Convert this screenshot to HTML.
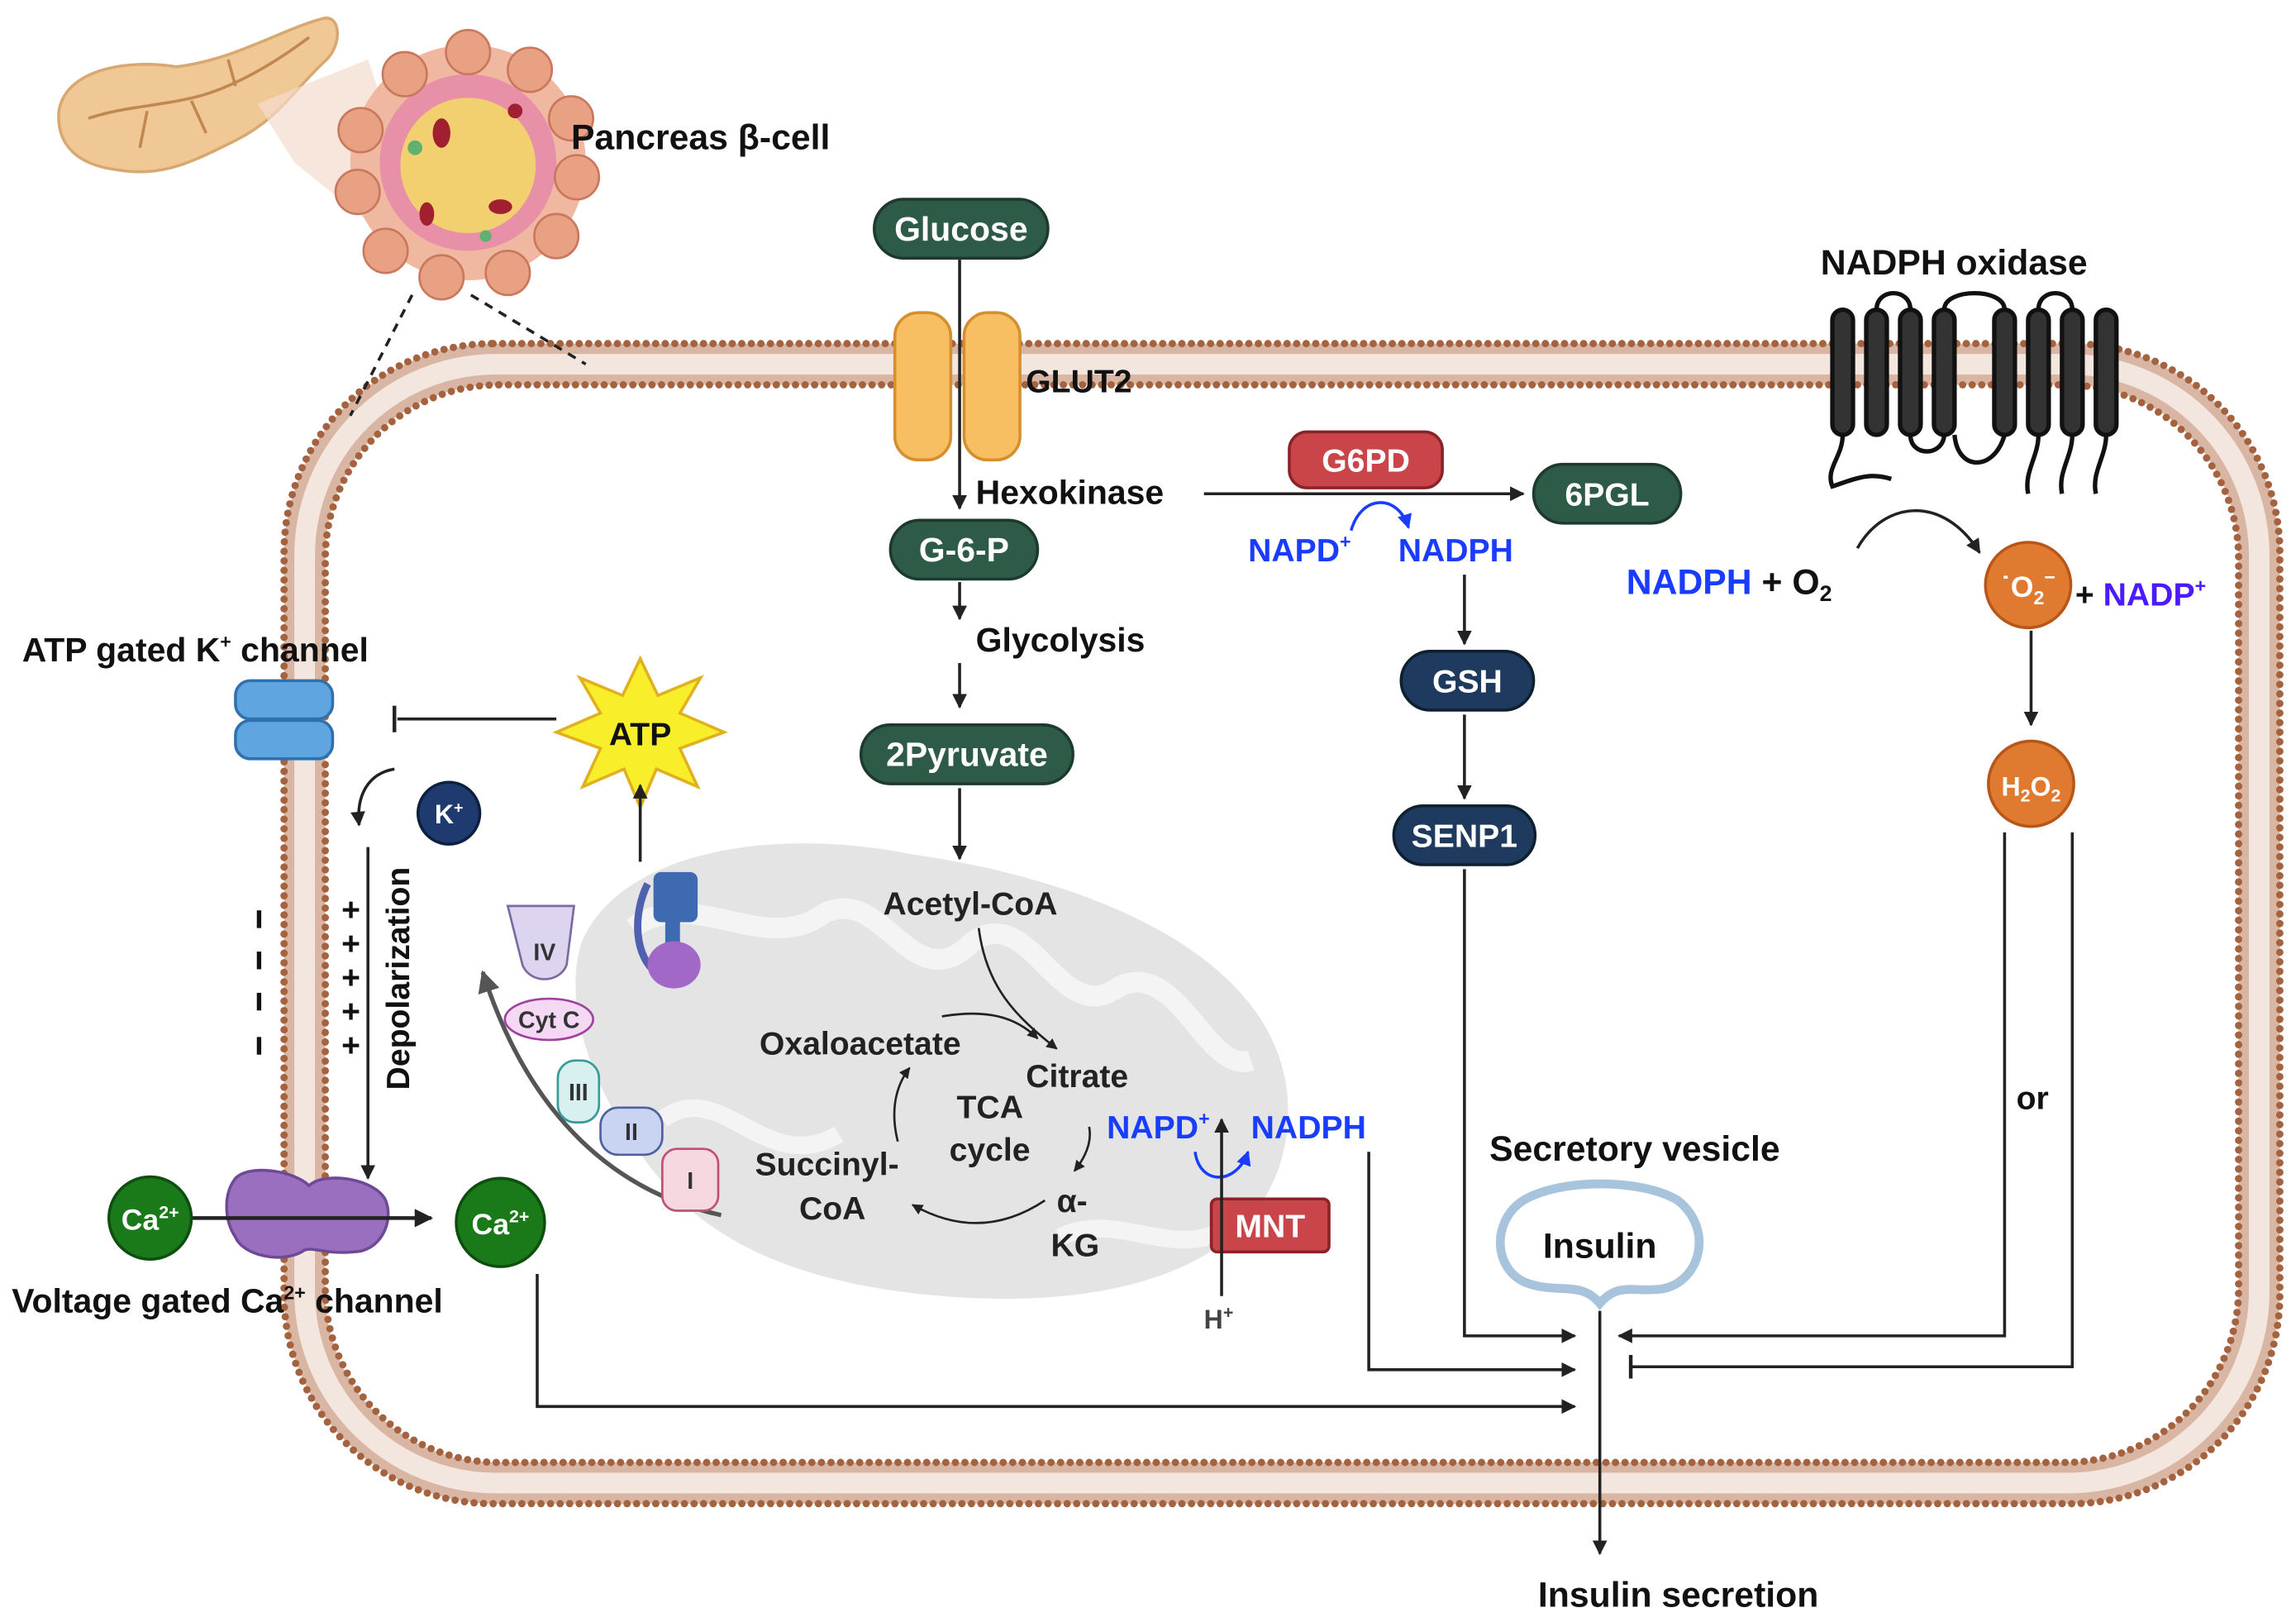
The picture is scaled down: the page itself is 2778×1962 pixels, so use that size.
<!DOCTYPE html>
<html><head><meta charset="utf-8">
<style>
html,body{margin:0;padding:0;background:#fff;}
svg{display:block;}
text{font-family:"Liberation Sans",sans-serif;font-weight:bold;}
</style></head><body>
<svg width="2778" height="1962" viewBox="0 0 1560 1101" xmlns="http://www.w3.org/2000/svg">
<defs>
<marker id="ah" viewBox="0 0 10 10" refX="9" refY="5" markerWidth="5" markerHeight="5" orient="auto"><path d="M0,0 L10,5 L0,10 z" fill="#222"/></marker>
<marker id="ahb" viewBox="0 0 10 10" refX="9" refY="5" markerWidth="5" markerHeight="5" orient="auto"><path d="M0,0 L10,5 L0,10 z" fill="#1a3cff"/></marker>
<marker id="ahg" viewBox="0 0 10 10" refX="9" refY="5" markerWidth="5" markerHeight="5" orient="auto"><path d="M0,0 L10,5 L0,10 z" fill="#555"/></marker>
</defs>

<!-- membrane -->
<rect x="207" y="247" width="1328" height="760" rx="130" fill="none" stroke="#d9b6a4" stroke-width="28"/>
<rect x="207" y="247" width="1328" height="760" rx="130" fill="none" stroke="#f3e6df" stroke-width="14"/>
<rect x="193" y="233" width="1356" height="788" rx="142" fill="none" stroke="#a5623f" stroke-width="5" stroke-dasharray="0 6.5" stroke-linecap="round"/>
<rect x="221" y="261" width="1300" height="732" rx="118" fill="none" stroke="#a5623f" stroke-width="5" stroke-dasharray="0 6.5" stroke-linecap="round"/>

<!-- pancreas -->
<path d="M40,75 C45,45 90,40 120,45 C160,40 190,20 220,12 C232,10 232,30 222,40 C200,60 190,80 160,95 C130,110 110,120 80,115 C55,112 38,100 40,75z" fill="#f0c896" stroke="#d9a870" stroke-width="2"/>
<path d="M60,80 C90,70 120,72 150,60 C170,52 190,40 210,25 M100,75 L95,100 M130,68 L140,90 M160,58 L155,40" stroke="#c08850" stroke-width="2" fill="none"/>
<path d="M175,70 L250,40 L300,190 L200,110z" fill="#f3dccd" opacity="0.7"/>
<circle cx="318" cy="110" r="80" fill="#f0b8a0"/>
<circle cx="318" cy="110" r="60" fill="#e890a8"/>
<circle cx="318" cy="112" r="46" fill="#f2d070"/>
<g fill="#e9a184" stroke="#c9785e" stroke-width="1.5">
<circle cx="318" cy="35" r="15"/><circle cx="360" cy="47" r="15"/><circle cx="388" cy="80" r="15"/><circle cx="392" cy="120" r="15"/><circle cx="378" cy="160" r="15"/><circle cx="345" cy="185" r="15"/><circle cx="300" cy="188" r="15"/><circle cx="262" cy="170" r="15"/><circle cx="243" cy="130" r="15"/><circle cx="245" cy="88" r="15"/><circle cx="275" cy="50" r="15"/>
</g>
<g fill="#a02030"><ellipse cx="300" cy="90" rx="6" ry="10"/><ellipse cx="340" cy="140" rx="8" ry="5"/><ellipse cx="290" cy="145" rx="5" ry="8"/><ellipse cx="350" cy="75" rx="5" ry="5"/></g>
<g fill="#60b070"><circle cx="282" cy="100" r="5"/><circle cx="330" cy="160" r="4"/></g>
<text x="388" y="101" font-size="24" fill="#111">Pancreas β-cell</text>
<line x1="280" y1="200" x2="238" y2="282" stroke="#222" stroke-width="2" stroke-dasharray="6 5"/>
<line x1="320" y1="200" x2="398" y2="247" stroke="#222" stroke-width="2" stroke-dasharray="6 5"/>

<!-- mitochondrion -->
<path d="M395,640 C420,580 520,560 620,580 C760,600 880,660 875,760 C870,860 760,890 640,880 C520,870 470,830 440,790 C410,750 380,690 395,640z" fill="#e4e4e4"/>
<path d="M430,630 C470,600 520,650 560,620 C600,600 620,680 660,640 C700,610 720,700 760,670 C800,650 820,730 850,720" stroke="#f4f4f4" stroke-width="14" fill="none"/>
<path d="M450,760 C490,730 520,800 570,770 M720,840 C760,820 800,860 840,830" stroke="#f4f4f4" stroke-width="12" fill="none"/>

<!-- GLUT2 -->
<rect x="608" y="212" width="38" height="100" rx="16" fill="#f7be62" stroke="#d48f2e" stroke-width="2"/>
<rect x="655" y="212" width="38" height="100" rx="16" fill="#f7be62" stroke="#d48f2e" stroke-width="2"/>
<text x="697" y="266" font-size="22" fill="#111">GLUT2</text>

<!-- Glucose path -->
<rect x="594" y="135" width="118" height="40" rx="20" fill="#2e5a48" stroke="#1e3a2e" stroke-width="2"/>
<text x="653" y="163" font-size="23" fill="#fff" text-anchor="middle">Glucose</text>
<line x1="652" y1="176" x2="652" y2="345" stroke="#222" stroke-width="2" marker-end="url(#ah)"/>
<text x="663" y="342" font-size="23" fill="#111">Hexokinase</text>
<line x1="818" y1="335" x2="1035" y2="335" stroke="#222" stroke-width="2" marker-end="url(#ah)"/>
<rect x="876" y="293" width="104" height="38" rx="12" fill="#c9454a" stroke="#8a2228" stroke-width="2"/>
<text x="928" y="320" font-size="22" fill="#fff" text-anchor="middle" font-weight="normal">G6PD</text>
<rect x="1042" y="315" width="100" height="40" rx="20" fill="#2e5a48" stroke="#1e3a2e" stroke-width="2"/>
<text x="1092" y="343" font-size="22" fill="#fff" text-anchor="middle" font-weight="normal">6PGL</text>
<text x="848" y="381" font-size="22" fill="#1a3cff">NAPD<tspan font-size="13" dy="-9">+</tspan></text>
<text x="950" y="381" font-size="22" fill="#1a3cff">NADPH</text>
<path d="M918,360 C925,335 950,335 957,358" stroke="#1a3cff" stroke-width="2" fill="none" marker-end="url(#ahb)"/>

<rect x="605" y="353" width="100" height="40" rx="20" fill="#2e5a48" stroke="#1e3a2e" stroke-width="2"/>
<text x="655" y="381" font-size="23" fill="#fff" text-anchor="middle">G-6-P</text>
<line x1="652" y1="395" x2="652" y2="420" stroke="#222" stroke-width="2" marker-end="url(#ah)"/>
<text x="663" y="442" font-size="23" fill="#111">Glycolysis</text>
<line x1="652" y1="450" x2="652" y2="480" stroke="#222" stroke-width="2" marker-end="url(#ah)"/>
<rect x="585" y="492" width="144" height="40" rx="20" fill="#2e5a48" stroke="#1e3a2e" stroke-width="2"/>
<text x="657" y="520" font-size="23" fill="#fff" text-anchor="middle">2Pyruvate</text>
<line x1="652" y1="535" x2="652" y2="583" stroke="#222" stroke-width="2" marker-end="url(#ah)"/>
<text x="600" y="621" font-size="22" fill="#222">Acetyl-CoA</text>
<path d="M665,630 C670,670 690,690 718,712" stroke="#222" stroke-width="1.5" fill="none" marker-end="url(#ah)"/>

<!-- TCA -->
<text x="516" y="716" font-size="22" fill="#222">Oxaloacetate</text>
<text x="697" y="738" font-size="22" fill="#222">Citrate</text>
<text x="650" y="759" font-size="22" fill="#222">TCA</text>
<text x="645" y="788" font-size="22" fill="#222">cycle</text>
<text x="513" y="798" font-size="22" fill="#222">Succinyl-</text>
<text x="543" y="828" font-size="22" fill="#222">CoA</text>
<text x="718" y="823" font-size="22" fill="#222">α-</text>
<text x="714" y="853" font-size="22" fill="#222">KG</text>
<path d="M640,690 C670,685 690,690 705,705" stroke="#222" stroke-width="1.5" fill="none" marker-end="url(#ah)"/>
<path d="M740,765 C742,775 738,785 730,795" stroke="#222" stroke-width="1.5" fill="none" marker-end="url(#ah)"/>
<path d="M710,815 C680,835 650,835 620,818" stroke="#222" stroke-width="1.5" fill="none" marker-end="url(#ah)"/>
<path d="M610,775 C605,755 608,738 618,725" stroke="#222" stroke-width="1.5" fill="none" marker-end="url(#ah)"/>

<!-- MNT -->
<text x="752" y="773" font-size="22" fill="#1a3cff">NAPD<tspan font-size="13" dy="-9">+</tspan></text>
<text x="850" y="773" font-size="22" fill="#1a3cff">NADPH</text>
<path d="M812,782 C815,805 840,805 848,782" stroke="#1a3cff" stroke-width="2" fill="none" marker-end="url(#ahb)"/>
<rect x="823" y="814" width="80" height="36" rx="4" fill="#c9454a" stroke="#8a2228" stroke-width="2"/>
<text x="863" y="840" font-size="22" fill="#fff" text-anchor="middle" font-weight="normal">MNT</text>
<line x1="830" y1="880" x2="830" y2="760" stroke="#222" stroke-width="2" marker-end="url(#ah)"/>
<text x="818" y="902" font-size="18" fill="#444">H<tspan font-size="12" dy="-7">+</tspan></text>
<polyline points="930,782 930,930 1070,930" stroke="#222" stroke-width="2" fill="none" marker-end="url(#ah)"/>

<!-- GSH branch -->
<line x1="995" y1="390" x2="995" y2="437" stroke="#222" stroke-width="2" marker-end="url(#ah)"/>
<rect x="952" y="442" width="90" height="40" rx="20" fill="#1e3a5f" stroke="#0e2030" stroke-width="2"/>
<text x="997" y="470" font-size="22" fill="#fff" text-anchor="middle">GSH</text>
<line x1="995" y1="485" x2="995" y2="542" stroke="#222" stroke-width="2" marker-end="url(#ah)"/>
<rect x="947" y="547" width="96" height="40" rx="20" fill="#1e3a5f" stroke="#0e2030" stroke-width="2"/>
<text x="995" y="575" font-size="22" fill="#fff" text-anchor="middle">SENP1</text>
<polyline points="995,590 995,907 1070,907" stroke="#222" stroke-width="2" fill="none" marker-end="url(#ah)"/>

<!-- NADPH oxidase -->
<text x="1237" y="186" font-size="24" fill="#111">NADPH oxidase</text>
<g stroke="#111" stroke-width="3" fill="#333">
<rect x="1245" y="210" width="14" height="85" rx="7"/><rect x="1268" y="210" width="14" height="85" rx="7"/><rect x="1291" y="210" width="14" height="85" rx="7"/><rect x="1314" y="210" width="14" height="85" rx="7"/>
<rect x="1355" y="210" width="14" height="85" rx="7"/><rect x="1378" y="210" width="14" height="85" rx="7"/><rect x="1401" y="210" width="14" height="85" rx="7"/><rect x="1424" y="210" width="14" height="85" rx="7"/>
</g>
<path d="M1275,210 C1275,195 1298,195 1298,210 M1321,210 C1321,195 1362,195 1362,210 M1385,210 C1385,195 1408,195 1408,210 M1252,295 C1252,310 1240,318 1245,330 C1260,325 1270,320 1285,325 M1298,295 C1298,310 1320,310 1321,295 M1328,295 C1330,320 1355,320 1362,295 M1385,295 C1385,310 1375,320 1378,335 M1408,295 C1408,310 1398,320 1401,335 M1431,295 C1431,310 1421,320 1424,335" stroke="#111" stroke-width="3" fill="none"/>
<path d="M1262,372 C1280,340 1320,335 1345,375" stroke="#222" stroke-width="2" fill="none" marker-end="url(#ah)"/>
<text x="1105" y="403" font-size="24" fill="#1a3cff">NADPH <tspan fill="#111">+ O<tspan font-size="15" dy="5">2</tspan></tspan></text>
<circle cx="1378" cy="397" r="29" fill="#e07a30" stroke="#b8561a" stroke-width="2"/>
<text x="1378" y="405" font-size="20" fill="#fff" text-anchor="middle">˙O<tspan font-size="13" dy="5">2</tspan><tspan font-size="13" dy="-14">−</tspan></text>
<text x="1410" y="411" font-size="22" fill="#111">+ <tspan fill="#4b1aff">NADP<tspan font-size="13" dy="-9">+</tspan></tspan></text>
<line x1="1380" y1="428" x2="1380" y2="492" stroke="#222" stroke-width="2" marker-end="url(#ah)"/>
<circle cx="1380" cy="532" r="29" fill="#e07a30" stroke="#b8561a" stroke-width="2"/>
<text x="1380" y="540" font-size="18" fill="#fff" text-anchor="middle">H<tspan font-size="12" dy="4">2</tspan><tspan dy="-4">O</tspan><tspan font-size="12" dy="4">2</tspan></text>
<polyline points="1362,565 1362,907 1100,907" stroke="#222" stroke-width="2" fill="none" marker-end="url(#ah)"/>
<polyline points="1408,565 1408,928 1108,928" stroke="#222" stroke-width="2" fill="none"/>
<line x1="1108" y1="920" x2="1108" y2="936" stroke="#222" stroke-width="2.5"/>
<text x="1370" y="753" font-size="22" fill="#111">or</text>

<!-- vesicle -->
<text x="1012" y="788" font-size="24" fill="#111">Secretory vesicle</text>
<path d="M1035,815 C1060,800 1115,800 1140,815 C1165,835 1155,870 1130,875 C1110,878 1100,870 1087,885 C1075,870 1060,878 1040,872 C1015,865 1012,830 1035,815z" fill="#fff" stroke="#a8c4dc" stroke-width="6"/>
<text x="1087" y="854" font-size="24" fill="#111" text-anchor="middle">Insulin</text>
<line x1="1087" y1="890" x2="1087" y2="1055" stroke="#222" stroke-width="2" marker-end="url(#ah)"/>
<text x="1045" y="1091" font-size="24" fill="#111">Insulin  secretion</text>

<!-- ATP & K channel -->
<polygon points="435,447 447,472 476,460 462,484 492,497 462,508 474,534 446,522 435,548 424,522 396,534 408,508 378,497 408,484 394,460 423,472" fill="#f8ef2a" stroke="#e0b020" stroke-width="2"/>
<text x="435" y="506" font-size="22" fill="#111" text-anchor="middle">ATP</text>
<line x1="435" y1="585" x2="435" y2="533" stroke="#222" stroke-width="2" marker-end="url(#ah)"/>
<line x1="378" y1="488" x2="270" y2="488" stroke="#222" stroke-width="2"/>
<line x1="268" y1="479" x2="268" y2="497" stroke="#222" stroke-width="2.5"/>
<rect x="160" y="462" width="66" height="26" rx="10" fill="#5fa6e0" stroke="#2e70b0" stroke-width="2"/>
<rect x="160" y="489" width="66" height="26" rx="10" fill="#5fa6e0" stroke="#2e70b0" stroke-width="2"/>
<text x="15" y="449" font-size="23" fill="#111">ATP gated K<tspan font-size="13" dy="-9">+</tspan><tspan dy="9"> channel</tspan></text>
<circle cx="305" cy="552" r="21" fill="#1e3a6f" stroke="#0e2040" stroke-width="2"/>
<text x="305" y="559" font-size="18" fill="#fff" text-anchor="middle" font-weight="normal">K<tspan font-size="11" dy="-7">+</tspan></text>
<path d="M268,522 C250,525 242,540 244,560" stroke="#222" stroke-width="2" fill="none" marker-end="url(#ah)"/>
<line x1="250" y1="575" x2="250" y2="800" stroke="#222" stroke-width="2" marker-end="url(#ah)"/>
<text transform="translate(278,740) rotate(-90)" font-size="22" fill="#111">Depolarization</text>
<text x="232" y="625" font-size="22" fill="#111">+</text><text x="232" y="648" font-size="22" fill="#111">+</text><text x="232" y="671" font-size="22" fill="#111">+</text><text x="232" y="694" font-size="22" fill="#111">+</text><text x="232" y="717" font-size="22" fill="#111">+</text>
<g stroke="#111" stroke-width="3"><line x1="176" y1="618" x2="176" y2="630"/><line x1="176" y1="646" x2="176" y2="658"/><line x1="176" y1="674" x2="176" y2="686"/><line x1="176" y1="704" x2="176" y2="716"/></g>

<!-- Ca channel -->
<path d="M160,800 C170,790 200,795 210,805 C220,795 255,800 262,815 C268,830 258,850 240,850 C220,852 210,845 205,850 C190,858 165,852 160,840 C152,828 152,810 160,800z" fill="#9b6fc0" stroke="#6e4a96" stroke-width="2"/>
<line x1="130" y1="827" x2="293" y2="827" stroke="#222" stroke-width="2.5" marker-end="url(#ah)"/>
<circle cx="102" cy="827" r="28" fill="#1a7a1a" stroke="#0e4e0e" stroke-width="2"/>
<text x="102" y="835" font-size="20" fill="#fff" text-anchor="middle" font-weight="normal">Ca<tspan font-size="12" dy="-8">2+</tspan></text>
<circle cx="340" cy="830" r="30" fill="#1a7a1a" stroke="#0e4e0e" stroke-width="2"/>
<text x="340" y="838" font-size="20" fill="#fff" text-anchor="middle" font-weight="normal">Ca<tspan font-size="12" dy="-8">2+</tspan></text>
<text x="8" y="891" font-size="23" fill="#111">Voltage gated Ca<tspan font-size="13" dy="-9">2+</tspan><tspan dy="9"> channel</tspan></text>
<polyline points="365,865 365,955 1070,955" stroke="#222" stroke-width="2" fill="none" marker-end="url(#ah)"/>

<!-- ETC -->
<path d="M490,825 C420,810 360,760 328,660" stroke="#555" stroke-width="3" fill="none" marker-end="url(#ahg)"/>
<path d="M345,615 L390,615 L385,655 C380,668 360,668 355,655z" fill="#ddd4f0" stroke="#7a6aa0" stroke-width="1.5"/>
<text x="370" y="652" font-size="16" fill="#333" text-anchor="middle" font-weight="normal">IV</text>
<ellipse cx="373" cy="692" rx="30" ry="14" fill="#f4d8f4" stroke="#a040a0" stroke-width="1.5"/>
<text x="373" y="698" font-size="16" fill="#333" text-anchor="middle" font-weight="normal">Cyt C</text>
<rect x="379" y="720" width="28" height="42" rx="12" fill="#d8f0f0" stroke="#3a9a9a" stroke-width="1.5"/>
<text x="393" y="747" font-size="16" fill="#333" text-anchor="middle" font-weight="normal">III</text>
<rect x="408" y="752" width="42" height="32" rx="12" fill="#c8d4f0" stroke="#5060a0" stroke-width="1.5"/>
<text x="429" y="774" font-size="16" fill="#333" text-anchor="middle" font-weight="normal">II</text>
<rect x="450" y="780" width="38" height="42" rx="10" fill="#f6d8e0" stroke="#c05070" stroke-width="1.5"/>
<text x="469" y="807" font-size="16" fill="#333" text-anchor="middle" font-weight="normal">I</text>
<rect x="444" y="592" width="30" height="34" rx="5" fill="#3d6ab0"/>
<rect x="452" y="626" width="10" height="26" fill="#3d6ab0"/>
<path d="M440,600 C430,620 430,650 448,662" stroke="#5060b0" stroke-width="5" fill="none"/>
<ellipse cx="458" cy="655" rx="18" ry="16" fill="#a268c8"/>
</svg>
</body></html>
